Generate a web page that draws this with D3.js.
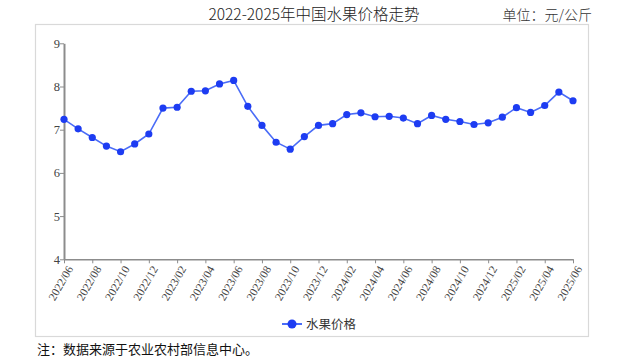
<!DOCTYPE html>
<html><head><meta charset="utf-8">
<script src="https://cdn.jsdelivr.net/npm/d3@7"></script>
<style>body{margin:0;background:#fff;}svg{display:block;}</style>
</head><body>
<svg id="c" width="625" height="361"></svg>
<script>
const months = [
"2022/06","2022/07","2022/08","2022/09","2022/10","2022/11","2022/12",
"2023/01","2023/02","2023/03","2023/04","2023/05","2023/06","2023/07","2023/08","2023/09","2023/10","2023/11","2023/12",
"2024/01","2024/02","2024/03","2024/04","2024/05","2024/06","2024/07","2024/08","2024/09","2024/10","2024/11","2024/12",
"2025/01","2025/02","2025/03","2025/04","2025/05","2025/06"];
const prices = [7.24,7.02,6.82,6.62,6.49,6.67,6.90,7.50,7.52,7.89,7.90,8.06,8.14,7.54,7.10,6.71,6.55,6.84,7.10,
7.14,7.35,7.39,7.30,7.31,7.27,7.14,7.33,7.24,7.19,7.12,7.16,7.29,7.51,7.40,7.56,7.87,7.67];
const yTicks = [4,5,6,7,8,9];
const xTickLabels = months.filter((d,i)=>i%2===0);
const seriesName = "水果价格";
const title = "2022-2025年中国水果价格走势";
const unit = "单位：元/公斤";
const note = "注：数据来源于农业农村部信息中心。";

const svg = d3.select("#c");
const cjk = "'Noto Sans CJK SC','Noto Sans',sans-serif";
const serif = "'Liberation Serif','DejaVu Serif',serif";

svg.append("rect").attr("x",35.5).attr("y",24.5).attr("width",553).attr("height",312)
  .attr("fill","none").attr("stroke","#d9d9d9").attr("stroke-width",1.2);

svg.append("text").attr("x",314).attr("y",20).attr("text-anchor","middle")
  .style("font-family",cjk).style("font-size","15.5px").style("font-weight",300).attr("fill","#222").text(title);
svg.append("text").attr("x",592).attr("y",20).attr("text-anchor","end")
  .style("font-family",cjk).style("font-size","14px").style("font-weight",300).attr("fill","#333").text(unit);

const x = d3.scalePoint().domain(months).range([64,573]);
const y = d3.scaleLinear().domain([4,9]).range([259.3,43.3]);

const gx = svg.append("g").attr("transform","translate(0,259.3)")
  .call(d3.axisBottom(x).tickValues(xTickLabels).tickSize(4).tickSizeOuter(0));
gx.select(".domain").attr("stroke","#8c8c8c").attr("stroke-width",1.5);
gx.selectAll(".tick line").attr("stroke","#8c8c8c");
gx.selectAll(".tick text").style("font-family",serif).style("font-size","11.5px").attr("fill","#444")
  .attr("text-anchor","end").attr("dx",0).attr("dy",0)
  .attr("transform","translate(3,6) rotate(-60)");

const gy = svg.append("g").attr("transform","translate(64,0)")
  .call(d3.axisLeft(y).tickValues(yTicks).tickSize(4).tickSizeOuter(0).tickFormat(d3.format("d")));
gy.select(".domain").attr("stroke","#8c8c8c").attr("stroke-width",2);
gy.selectAll(".tick line").attr("stroke","#8c8c8c");
gy.selectAll(".tick text").style("font-family",serif).style("font-size","12.5px").attr("fill","#444").attr("x",-4);

const line = d3.line().x((d,i)=>x(months[i])).y(d=>y(d));
svg.append("path").datum(prices).attr("d",line).attr("fill","none")
  .attr("stroke","#4a6cf7").attr("stroke-width",1.6);
svg.selectAll("circle.pt").data(prices).join("circle").attr("class","pt")
  .attr("cx",(d,i)=>x(months[i])).attr("cy",d=>y(d)).attr("r",3.6).attr("fill","#1d3cf2");

const lg = svg.append("g").attr("transform","translate(292,324)");
lg.append("line").attr("x1",-10).attr("x2",10).attr("stroke","#4a6cf7").attr("stroke-width",2);
lg.append("circle").attr("r",4.5).attr("fill","#1d3cf2");
lg.append("text").attr("x",14).attr("y",4.5).style("font-family",cjk).style("font-size","12.5px")
  .attr("fill","#333").text(seriesName);

svg.append("text").attr("x",37).attr("y",354).style("font-family",cjk).style("font-size","13px")
  .attr("fill","#111").text(note);
</script>
</body></html>
